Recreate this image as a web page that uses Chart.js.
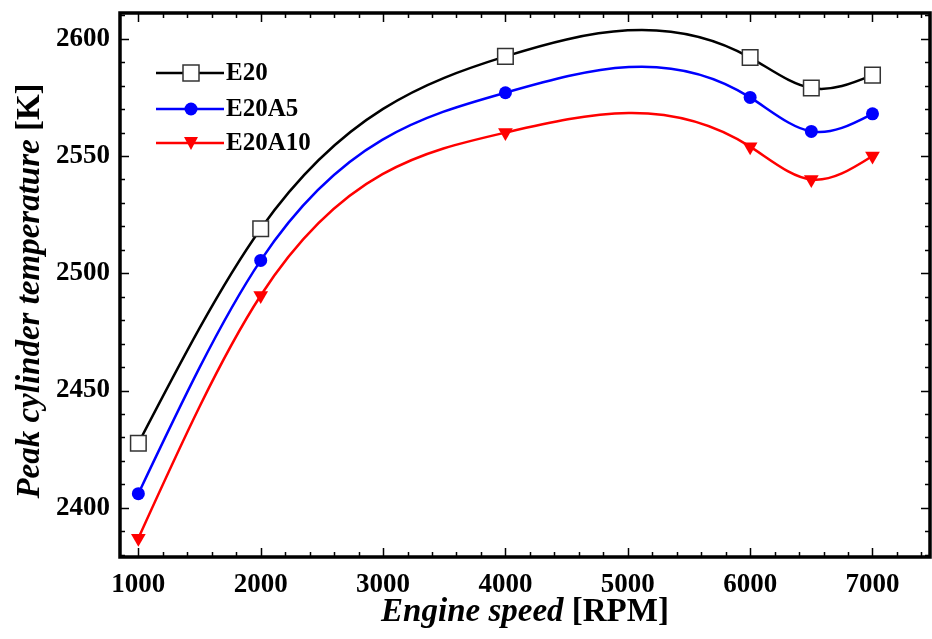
<!DOCTYPE html>
<html>
<head>
<meta charset="utf-8">
<script src="https://cdn.jsdelivr.net/npm/chart.js@4.4.0/dist/chart.umd.min.js"></script>
<style>
  html, body { margin: 0; padding: 0; background: #fff; }
  #wrap { width: 932px; height: 639px; }
</style>
</head>
<body>
<div id="wrap"><canvas id="myChart" width="932" height="639"></canvas></div>
<script>
// engine speed [RPM]
const speeds = [1000, 2000, 4000, 6000, 6500, 7000];

// peak cylinder temperature [K]
const e20    = [2427.5, 2519, 2592.5, 2592, 2579, 2584.5];
const e20a5  = [2406, 2505.5, 2577, 2575, 2560.5, 2568];
const e20a10 = [2387, 2490.5, 2560, 2554, 2540, 2550];

const seriesNames = ["E20", "E20A5", "E20A10"];

// axis tick labels
const xTicks = [1000, 2000, 3000, 4000, 5000, 6000, 7000];
const yTicks = [2400, 2450, 2500, 2550, 2600];

const FONT = "'Liberation Serif', 'Times New Roman', serif";

function toPoints(vals) {
    return speeds.map((s, i) => ({ x: s, y: vals[i] }));
}

// slopes of a natural cubic spline y(x) at the data points
function splineSlopes(xs, ys) {
    const n = xs.length;
    const h = [];
    for (let i = 0; i < n - 1; i++) h.push(xs[i + 1] - xs[i]);
    const M = new Array(n).fill(0);
    // tridiagonal solve (Thomas) for interior second derivatives
    const a = [], b = [], c = [], d = [];
    for (let i = 1; i < n - 1; i++) {
        a.push(h[i - 1]);
        b.push(2 * (h[i - 1] + h[i]));
        c.push(h[i]);
        d.push(6 * ((ys[i + 1] - ys[i]) / h[i] - (ys[i] - ys[i - 1]) / h[i - 1]));
    }
    const m = b.length;
    for (let i = 1; i < m; i++) {
        const w = a[i] / b[i - 1];
        b[i] -= w * c[i - 1];
        d[i] -= w * d[i - 1];
    }
    const sol = new Array(m);
    for (let i = m - 1; i >= 0; i--) {
        sol[i] = (d[i] - (i < m - 1 ? c[i] * sol[i + 1] : 0)) / b[i];
    }
    for (let i = 0; i < m; i++) M[i + 1] = sol[i];
    const s = [];
    for (let i = 0; i < n - 1; i++) {
        s.push((ys[i + 1] - ys[i]) / h[i] - h[i] * (2 * M[i] + M[i + 1]) / 6);
    }
    const k = n - 2;
    s.push((ys[k + 1] - ys[k]) / h[k] + h[k] * (M[k] + 2 * M[k + 1]) / 6);
    return s;
}

const data = {
    datasets: [
        {
            label: seriesNames[0],
            data: toPoints(e20),
            borderColor: "#000000",
            borderWidth: 2.5,
            pointStyle: "rect",
            pointRadius: 11,
            pointBackgroundColor: "#FFFFFF",
            pointBorderColor: "#333333",
            pointBorderWidth: 1.5,
            tension: 0.4,
        },
        {
            label: seriesNames[1],
            data: toPoints(e20a5),
            borderColor: "#0000FF",
            borderWidth: 2.5,
            pointStyle: "circle",
            pointRadius: 6.5,
            pointBackgroundColor: "#0000FF",
            pointBorderColor: "#0000FF",
            pointBorderWidth: 0,
            tension: 0.4,
        },
        {
            label: seriesNames[2],
            data: toPoints(e20a10),
            borderColor: "#FF0000",
            borderWidth: 2.5,
            pointStyle: "triangle",
            pointRotation: 180,
            pointRadius: 8.5,
            pointBackgroundColor: "#FF0000",
            pointBorderColor: "#FF0000",
            pointBorderWidth: 0,
            tension: 0.4,
        }
    ]
};

// replace chart.js bezier control points with those of a natural spline in x
const splinePlugin = {
    id: "spline",
    beforeDatasetDraw(chart, args) {
        const meta = args.meta;
        const xs = chart.scales.x, ys = chart.scales.y;
        meta.dataset.updateControlPoints(chart.chartArea, "x");
        const pts = meta.data;
        const raw = chart.data.datasets[args.index].data;
        const X = raw.map(p => p.x), Y = raw.map(p => p.y);
        const s = splineSlopes(X, Y);
        for (let i = 0; i < pts.length; i++) {
            if (i > 0) {
                const h = (X[i] - X[i - 1]) / 3;
                pts[i].cp1x = xs.getPixelForValue(X[i] - h);
                pts[i].cp1y = ys.getPixelForValue(Y[i] - h * s[i]);
            }
            if (i < pts.length - 1) {
                const h = (X[i + 1] - X[i]) / 3;
                pts[i].cp2x = xs.getPixelForValue(X[i] + h);
                pts[i].cp2y = ys.getPixelForValue(Y[i] + h * s[i]);
            }
        }
    }
};

// spines, inward ticks (major + minor, mirrored), legend and axis titles
const framePlugin = {
    id: "frame",
    afterDraw(chart) {
        const ctx = chart.ctx;
        const a = chart.chartArea;
        const xs = chart.scales.x;
        const ys = chart.scales.y;

        ctx.save();
        ctx.strokeStyle = "#000";

        // ticks
        ctx.lineWidth = 1.5;
        for (let v = 1000; v <= 7400; v += 200) {
            const px = Math.round(xs.getPixelForValue(v)) + 0.5;
            const len = v % 1000 === 0 ? 9 : 5;
            ctx.beginPath();
            ctx.moveTo(px, a.bottom); ctx.lineTo(px, a.bottom - len);
            ctx.moveTo(px, a.top); ctx.lineTo(px, a.top + len);
            ctx.stroke();
        }
        for (let v = 2380; v <= 2610; v += 10) {
            const py = Math.round(ys.getPixelForValue(v)) + 0.5;
            const len = v % 50 === 0 ? 9 : 5;
            ctx.beginPath();
            ctx.moveTo(a.left, py); ctx.lineTo(a.left + len, py);
            ctx.moveTo(a.right, py); ctx.lineTo(a.right - len, py);
            ctx.stroke();
        }

        // spines
        ctx.lineWidth = 3.5;
        ctx.strokeRect(a.left, a.top, a.right - a.left, a.bottom - a.top);

        // legend
        const rows = [73, 109, 143];
        chart.data.datasets.forEach((ds, i) => {
            const y = rows[i];
            ctx.strokeStyle = ds.borderColor;
            ctx.lineWidth = 2.5;
            ctx.beginPath();
            ctx.moveTo(156, y); ctx.lineTo(224, y);
            ctx.stroke();
            const cx = 191;
            if (ds.pointStyle === "rect") {
                ctx.fillStyle = "#fff";
                ctx.fillRect(cx - 8, y - 8, 16, 16);
                ctx.strokeStyle = "#333";
                ctx.lineWidth = 1.5;
                ctx.strokeRect(cx - 8, y - 8, 16, 16);
            } else if (ds.pointStyle === "circle") {
                ctx.fillStyle = ds.pointBackgroundColor;
                ctx.beginPath();
                ctx.arc(cx, y, 6.5, 0, Math.PI * 2);
                ctx.fill();
            } else {
                ctx.fillStyle = ds.pointBackgroundColor;
                ctx.beginPath();
                ctx.moveTo(cx - 7, y - 6);
                ctx.lineTo(cx + 7, y - 6);
                ctx.lineTo(cx, y + 7);
                ctx.closePath();
                ctx.fill();
            }
            ctx.fillStyle = "#000";
            ctx.font = "bold 25px " + FONT;
            ctx.textAlign = "left";
            ctx.textBaseline = "middle";
            ctx.fillText(ds.label, 226, y + 1);
        });

        // x axis title: italic part + upright part
        ctx.fillStyle = "#000";
        ctx.textBaseline = "alphabetic";
        ctx.textAlign = "left";
        const xt1 = "Engine speed ";
        const xt2 = "[RPM]";
        const fIt = "italic bold 33px " + FONT;
        const fUp = "bold 33px " + FONT;
        ctx.font = fIt; const w1 = ctx.measureText(xt1).width;
        ctx.font = fUp; const w2 = ctx.measureText(xt2).width;
        let x0 = (a.left + a.right) / 2 - (w1 + w2) / 2;
        ctx.font = fIt; ctx.fillText(xt1, x0, 621);
        ctx.font = fUp; ctx.fillText(xt2, x0 + w1, 621);

        // y axis title, rotated
        const yt1 = "Peak cylinder temperature ";
        const yt2 = "[K]";
        ctx.font = fIt; const h1 = ctx.measureText(yt1).width;
        ctx.font = fUp; const h2 = ctx.measureText(yt2).width;
        ctx.translate(39, (a.top + a.bottom) / 2 + 6);
        ctx.rotate(-Math.PI / 2);
        x0 = -(h1 + h2) / 2;
        ctx.font = fIt; ctx.fillText(yt1, x0, 0);
        ctx.font = fUp; ctx.fillText(yt2, x0 + h1, 0);

        ctx.restore();
    }
};

const config = {
    type: "line",
    data: data,
    options: {
        responsive: false,
        animation: false,
        layout: {
            autoPadding: false,
            padding: { top: 13, right: 2, left: 0, bottom: 0 }
        },
        scales: {
            x: {
                type: "linear",
                min: 850,
                max: 7470,
                afterBuildTicks(scale) { scale.ticks = xTicks.map(v => ({ value: v })); },
                afterFit(scale) {
                    scale.height = 82;
                    scale.paddingLeft = 0;
                    scale.paddingRight = 0;
                },
                grid: { display: false, drawTicks: false },
                border: { display: false },
                ticks: {
                    autoSkip: false,
                    color: "#000",
                    padding: 12,
                    font: { family: FONT, size: 27, weight: "bold" },
                    maxRotation: 0,
                    callback: (v) => String(v)
                }
            },
            y: {
                min: 2379,
                max: 2611,
                afterBuildTicks(scale) { scale.ticks = yTicks.map(v => ({ value: v })); },
                afterFit(scale) {
                    scale.width = 120;
                    scale.paddingTop = 0;
                    scale.paddingBottom = 0;
                },
                grid: { display: false, drawTicks: false },
                border: { display: false },
                ticks: {
                    autoSkip: false,
                    color: "#000",
                    padding: 10,
                    font: { family: FONT, size: 27, weight: "bold" },
                    callback: (v) => String(v)
                }
            }
        },
        plugins: {
            legend: { display: false },
            tooltip: { enabled: false }
        },
        hover: { mode: null }
    },
    plugins: [splinePlugin, framePlugin]
};

const myChart = new Chart(document.getElementById("myChart"), config);
</script>
</body>
</html>
